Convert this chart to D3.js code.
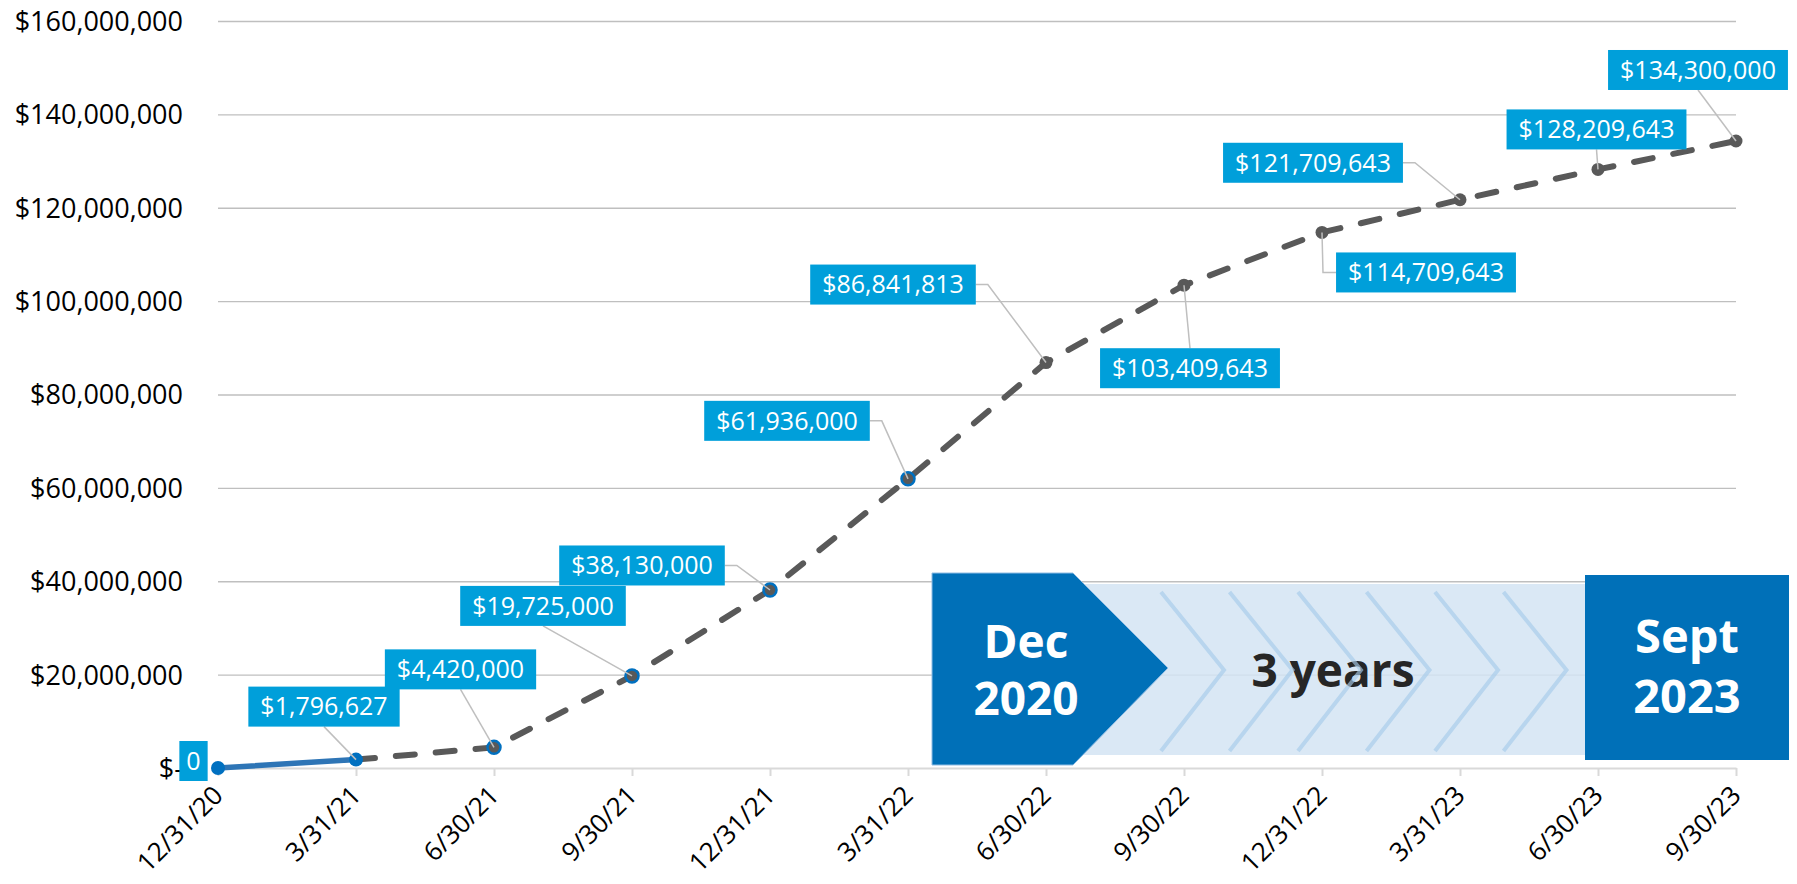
<!DOCTYPE html>
<html>
<head>
<meta charset="utf-8">
<script src="https://cdn.jsdelivr.net/npm/d3@7"></script>
<style>
  html, body { margin: 0; padding: 0; background: #ffffff; }
  svg { display: block; font-family: "Open Sans", "Noto Sans", sans-serif; }
</style>
</head>
<body>
<svg id="chart" width="1797" height="884"></svg>
<script>
// ---------- data ----------
const categories = ["12/31/20","3/31/21","6/30/21","9/30/21","12/31/21","3/31/22","6/30/22","9/30/22","12/31/22","3/31/23","6/30/23","9/30/23"];
const values = [0, 1796627, 4420000, 19725000, 38130000, 61936000, 86841813, 103409643, 114709643, 121709643, 128209643, 134300000];
const yTicks = [0, 20000000, 40000000, 60000000, 80000000, 100000000, 120000000, 140000000, 160000000];
const actualCount = 2;            // first two points are actuals (solid line)
const ringMarkers = [2, 3, 4, 5]; // blue-ringed projected markers
const startLabel = ["Dec", "2020"];
const endLabel = ["Sept", "2023"];
const spanLabel = "3 years";

// label layout (box centre offset from point, and leader style)
const labelLayout = [
  {dx: -24.5, dy: -7,   leader: "none"},
  {dx: -32,   dy: -53,  leader: "bottom"},
  {dx: -33.5, dy: -78,  leader: "bottom"},
  {dx: -89,   dy: -70,  leader: "bottom"},
  {dx: -128,  dy: -24.5,leader: "right"},
  {dx: -121,  dy: -58,  leader: "right"},
  {dx: -153,  dy: -78,  leader: "right"},
  {dx: 6,     dy: 83,   leader: "top"},
  {dx: 104,   dy: 40,   leader: "left"},
  {dx: -147,  dy: -37,  leader: "right"},
  {dx: -1.5,  dy: -40,  leader: "bottom"},
  {dx: -38,   dy: -71,  leader: "bottom"}
];

// ---------- setup ----------
const svg = d3.select("#chart");
const x = d3.scalePoint().domain(categories).range([218, 1736]).padding(0);
const y = d3.scaleLinear().domain([0, 160000000]).range([768, 21]);
const fmt = d3.format(",");

// gridlines + y axis labels
const yAxis = d3.axisLeft(y).tickValues(yTicks)
  .tickSize(-(1736 - 218))
  .tickFormat(v => v === 0 ? "$-" : "$" + fmt(v));
const gy = svg.append("g").attr("transform", "translate(218,0)").call(yAxis);
gy.select(".domain").remove();
gy.selectAll(".tick line").attr("stroke", "#BFBFBF").attr("stroke-width", 1.4)
  .filter(d => d === 0).remove();
gy.selectAll(".tick text").attr("x", -35).attr("dy", "0.35em")
  .attr("fill", "#000").style("font-size", "27px").style("font-family", "'Open Sans', sans-serif");

// x axis
const xAxis = d3.axisBottom(x).tickSize(8).tickSizeOuter(0);
const gx = svg.append("g").attr("transform", "translate(0,768)").call(xAxis);
gx.select(".domain").attr("stroke", "#D9D9D9").attr("stroke-width", 2);
gx.selectAll(".tick line").attr("stroke", "#D9D9D9").attr("stroke-width", 2);
gx.selectAll(".tick text")
  .attr("x", 0).attr("y", 0).attr("dy", 0)
  .attr("transform", "translate(6,29) rotate(-45)")
  .attr("text-anchor", "end")
  .attr("fill", "#000").style("font-size", "26px").style("font-family", "'Open Sans', sans-serif");

// ---------- annotation (timeline) ----------
const ann = svg.append("g");
ann.append("rect").attr("x", 1000).attr("y", 584).attr("width", 585).attr("height", 171)
  .attr("fill", "#D3E4F3").attr("opacity", 0.85);
ann.append("text").attr("x", 1333).attr("y", 687).attr("text-anchor", "middle")
  .attr("fill", "#262626").style("font-size", "46px").style("font-weight", 700)
  .text(spanLabel);
const chevrons = d3.range(6);
ann.selectAll("path.chev").data(chevrons).join("path")
  .attr("class", "chev")
  .attr("d", i => { const lx = 1161 + i * 68.5; return `M${lx},592 L${lx + 63},670 L${lx},751`; })
  .attr("fill", "none").attr("stroke", "#A6CBEA").attr("stroke-width", 4).attr("opacity", 0.65);
ann.append("path").attr("d", "M932,573 L1073,573 L1168,668 L1073,765 L932,765 Z")
  .attr("fill", "#0070B8").attr("stroke", "#8FBCE3").attr("stroke-width", 1);
ann.append("rect").attr("x", 1585).attr("y", 575).attr("width", 204).attr("height", 185)
  .attr("fill", "#0070B8");
ann.selectAll("text.start").data(startLabel).join("text").attr("class", "start")
  .attr("x", 1026).attr("y", (d, i) => 658 + i * 57).attr("text-anchor", "middle")
  .attr("fill", "#fff").style("font-size", "46px").style("font-weight", 700).text(d => d);
ann.selectAll("text.end").data(endLabel).join("text").attr("class", "end")
  .attr("x", 1687).attr("y", (d, i) => 653 + i * 60).attr("text-anchor", "middle")
  .attr("fill", "#fff").style("font-size", "47px").style("font-weight", 700).text(d => d);

// ---------- data lines ----------
const pts = categories.map((c, i) => ({c, v: values[i], i, px: x(c), py: y(values[i])}));
const line = d3.line().x(d => d.px).y(d => d.py);

svg.append("path").datum(pts.slice(0, actualCount))
  .attr("d", line).attr("fill", "none").attr("stroke", "#2E75B6").attr("stroke-width", 5.5)
  .attr("stroke-linecap", "round");
svg.append("path").datum(pts.slice(actualCount - 1))
  .attr("d", line).attr("fill", "none").attr("stroke", "#595959").attr("stroke-width", 6)
  .attr("stroke-dasharray", "19,21").attr("stroke-linecap", "round");

// markers
svg.selectAll("circle.pt").data(pts).join("circle").attr("class", "pt")
  .attr("cx", d => d.px).attr("cy", d => d.py)
  .attr("r", d => d.i < actualCount ? 7 : 6.5)
  .attr("fill", d => d.i < actualCount ? "#0070C0" : "#595959")
  .attr("stroke", d => (d.i < actualCount || ringMarkers.includes(d.i)) ? "#0070C0" : "#595959")
  .attr("stroke-width", d => ringMarkers.includes(d.i) ? 2.5 : 0);

// ---------- data labels ----------
const lg = svg.append("g");
pts.forEach(d => {
  const L = labelLayout[d.i];
  const txt = d.v === 0 ? "0" : "$" + fmt(d.v);
  const cx = d.px + L.dx, cy = d.py + L.dy;
  const g = lg.append("g");
  const t = g.append("text").attr("x", cx).attr("y", cy).attr("dy", "0.35em")
    .attr("text-anchor", "middle").attr("fill", "#fff")
    .style("font-size", "25px").text(txt);
  const w = t.node().getComputedTextLength() + (d.v === 0 ? 14 : 24);
  const h = 40;
  const x0 = cx - w / 2, x1 = cx + w / 2, y0 = cy - h / 2, y1 = cy + h / 2;
  let path = null;
  if (L.leader === "bottom") path = `M${cx},${y1} L${d.px},${d.py}`;
  else if (L.leader === "top") path = `M${cx},${y0} L${d.px},${d.py}`;
  else if (L.leader === "right") path = `M${x1},${cy} L${x1 + 12},${cy} L${d.px},${d.py}`;
  else if (L.leader === "left") path = `M${d.px},${d.py} L${d.px + 1},${cy} L${x0},${cy}`;
  if (path) lg.insert("path", ":first-child").attr("d", path).attr("fill", "none")
    .attr("stroke", "#BFBFBF").attr("stroke-width", 1.5);
  g.insert("rect", "text").attr("x", x0).attr("y", y0).attr("width", w).attr("height", h)
    .attr("fill", "#009FDA");
});
</script>
</body>
</html>
